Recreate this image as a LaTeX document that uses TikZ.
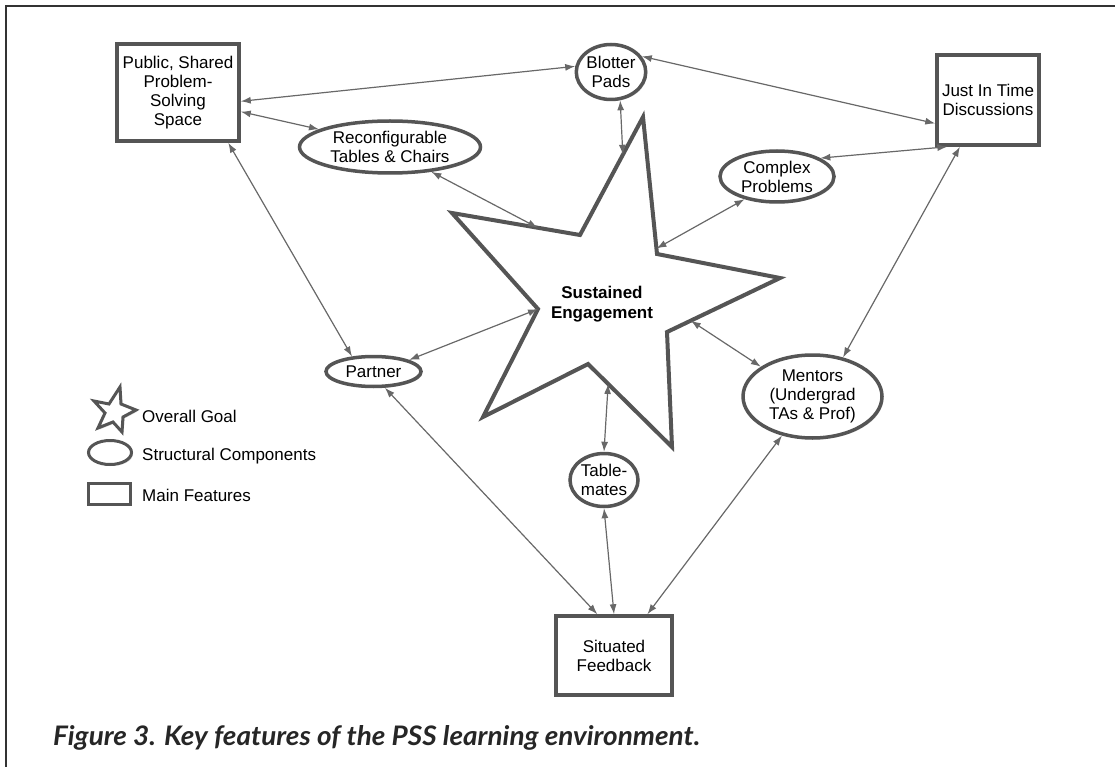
\documentclass[tikz,border=0pt]{standalone}
\usepackage{graphicx}
\usepackage{fontspec}
\setmainfont{Liberation Sans}
\newfontfamily\capfont{Lato}
\usetikzlibrary{arrows.meta,shapes.geometric,shadows,calc}

\definecolor{edgegray}{HTML}{555555}
\definecolor{linkgray}{HTML}{686868}
\definecolor{framegray}{HTML}{333333}

\tikzset{
  softshadow/.style={drop shadow={shadow xshift=1.5pt, shadow yshift=-1.5pt, opacity=0.3, fill=black!50}},
  base/.style={draw=edgegray, line width=3.5pt, fill=white, align=center, inner sep=0pt,
    font=\fontsize{17}{19}\selectfont, softshadow},
  feature/.style={base, rectangle},
  component/.style={base, ellipse},
  goalstar/.style={draw=edgegray, line width=4pt, fill=white, line join=miter, softshadow},
  link/.style={>={Latex[length=10pt,width=7pt]}, <->, draw=linkgray, line width=1.2pt},
  keytext/.style={anchor=west, inner sep=0pt, font=\fontsize{17}{19}\selectfont},
}

\begin{document}
\begin{tikzpicture}[x=1pt, y=-1pt]
\useasboundingbox (0,0) rectangle (1115,767);
\draw[framegray, line width=1.5pt] (6,767) -- (6,6) -- (1115,6);

% main features
\node[feature, minimum width=122pt, minimum height=97pt] (pubspace) at (178,92.5) {Public, Shared\\Problem-\\Solving\\Space};
\node[feature, minimum width=102pt, minimum height=90pt] (jit) at (988,100) {Just In Time\\Discussions};
\node[feature, minimum width=116pt, minimum height=79pt] (feedback) at (614,655.5) {Situated\\Feedback};

% structural components
\node[component, minimum width=64pt, minimum height=55pt] (blotter) at (611,72) {Blotter\\Pads};
\node[component, minimum width=181pt, minimum height=52pt] (tables) at (390,147) {Reconfigurable\\Tables \& Chairs};
\node[component, minimum width=114pt, minimum height=51pt] (complex) at (777,176.5) {Complex\\Problems};
\node[component, minimum width=95pt, minimum height=30pt] (partner) at (373.5,371.5) {Partner};
\node[component, minimum width=139pt, minimum height=83pt] (mentors) at (812.5,396.5) {Mentors\\(Undergrad\\TAs \& Prof)};
\node[component, minimum width=68pt, minimum height=53pt] (tablemates) at (604,480) {Table-\\mates};

% overall goal
\coordinate (s1) at (643,117);
\coordinate (s2) at (657,254);
\coordinate (s3) at (780,278);
\coordinate (s4) at (667,332);
\coordinate (s5) at (672,447);
\coordinate (s6) at (588,364);
\coordinate (s7) at (483,417);
\coordinate (s8) at (538,309);
\coordinate (s9) at (452,213);
\coordinate (s10) at (580,235);
\draw[goalstar] (s1) -- (s2) -- (s3) -- (s4) -- (s5) -- (s6) -- (s7) -- (s8) -- (s9) -- (s10) -- cycle;
\node[font=\fontsize{17}{19.5}\selectfont\bfseries, align=center] (goal) at (602,304) {Sustained\\Engagement};

\coordinate (g-tables) at ($(s9)!0.67!(s10)$);
\coordinate (g-blotter) at ($(s10)!0.68!(s1)$);
\coordinate (g-complex) at ($(s1)!0.96!(s2)$);
\coordinate (g-mentors) at ($(s3)!0.79!(s4)$);
\coordinate (g-tablemates) at ($(s6)!0.24!(s5)$);

% connectors
\draw[link] (pubspace.-8) -- (blotter.171);
\draw[link] (pubspace.-17) -- (tables.166);
\draw[link] (pubspace.-45) -- (partner.145);
\draw[link] (blotter.27) -- (jit.-156);
\draw[link] (blotter.-72) -- (g-blotter);
\draw[link] (tables.-31) -- (g-tables);
\draw[link] (complex.23) -- (jit.-131);
\draw[link] (complex.-145) -- (g-complex);
\draw[link] (jit.-121) -- (mentors.52);
\draw[link] (partner.18) -- (s8);
\draw[link] (mentors.150) -- (g-mentors);
\draw[link] (tablemates.north) -- (g-tablemates);
\draw[link] (partner.-55) -- (feedback.112);
\draw[link] (tablemates.south) -- (feedback.north);
\draw[link] (mentors.-128) -- (feedback.51);

% key
\draw[goalstar, line width=3pt] (120,387) -- (121,404) -- (136,410) -- (123,417) -- (122,432)
  -- (113,422) -- (98,428) -- (105,413) -- (94,401) -- (109,404) -- cycle;
\node[keytext] (keygoal) at (142,416.5) {Overall Goal};
\node[component, line width=3pt, minimum width=43pt, minimum height=24pt] (keycomp) at (110,452.5) {};
\node[keytext] (keycompt) at (142,456.5) {Structural Components};
\node[feature, line width=3pt, minimum width=42pt, minimum height=21pt] (keyfeat) at (109.5,494) {};
\node[keytext] (keyfeatt) at (142,495.5) {Main Features};

% caption
\node[anchor=base west, inner sep=0pt, text=black!85] (caption) at (53,745)
  {\resizebox{647pt}{20pt}{\capfont\bfseries\itshape Figure 3. Key features of the PSS learning environment.}};
\end{tikzpicture}
\end{document}
